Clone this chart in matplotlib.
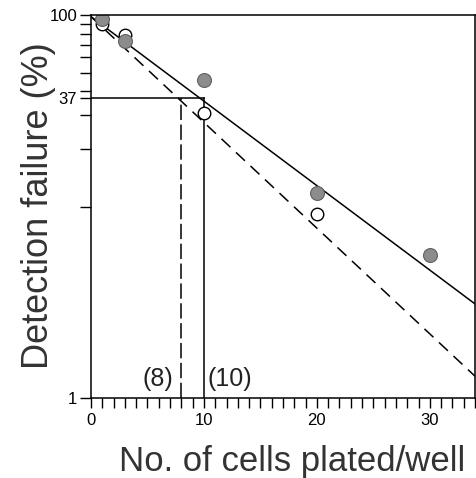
import numpy as np
import matplotlib
matplotlib.use("Agg")
import matplotlib.pyplot as plt

plt.rcParams['font.family'] = ['Liberation Sans', 'DejaVu Sans']

# data
cells_filled = [1, 3, 10, 20, 30]
failure_filled = [95.3, 73.2, 45.8, 11.8, 5.6]
cells_open = [1, 3, 10, 20]
failure_open = [89.7, 78.6, 30.8, 9.1]

# fitted lines (end points)
fit_x = [0, 34]
fit_solid = [98, 3.1]
fit_dashed = [98, 1.3]

level_37 = 37
cut_solid = 10
cut_dashed = 8

xtick_major = [0, 10, 20, 30]
ytick_pos = [1, 10, 20, 30, 37, 40, 50, 60, 70, 80, 90, 100]
ytick_lab = ["1", "", "", "", "37", "", "", "", "", "", "", "100"]

fig = plt.figure(figsize=(4.76, 4.78), dpi=100)
ax = fig.add_axes([91/476, 1 - 398/478, 384/476, 383/478])

ax.plot(fit_x, fit_solid, color="black", lw=1.1)
ax.plot(fit_x, fit_dashed, color="black", lw=1.1, dashes=(8, 5))

# 37% read-off lines
ax.plot([0, cut_solid], [level_37, level_37], color="black", lw=1.1)
ax.plot([cut_solid, cut_solid], [1, level_37], color="black", lw=1.1)
ax.plot([cut_dashed, cut_dashed], [1, level_37], color="black", lw=1.1, dashes=(10, 3))

ax.plot(cells_open, failure_open, "o", ms=9, mfc="white", mec="black", mew=1.0)
ax.plot(cells_filled, failure_filled, "o", ms=10, mfc="#8c8c8c", mec="#606060", mew=0.8)

ax.text(7.3, 1.25, "(8)", fontsize=18, ha="right", va="center", color="#222222")
ax.text(10.3, 1.25, "(10)", fontsize=18, ha="left", va="center", color="#222222")

ax.set_yscale("log")
ax.set_xlim(0, 34)
ax.set_ylim(1, 100)
ax.set_xticks(range(0, 35))
ax.set_xticklabels([str(v) if v in xtick_major else "" for v in range(0, 35)])
ax.yaxis.set_minor_locator(matplotlib.ticker.NullLocator())
ax.set_yticks(ytick_pos)
ax.set_yticklabels(ytick_lab)
ax.tick_params(axis="x", direction="out", length=7, width=1.0, labelsize=12, pad=4)
ax.tick_params(axis="y", direction="out", length=8, width=1.0, labelsize=12, pad=2)
for s in ax.spines.values():
    s.set_linewidth(1.1)

fig.text(292/476, 1 - 461/478, "No. of cells plated/well", fontsize=25,
         color="#333333", ha="center", va="center")
fig.text(39/476, 1 - 206/478, "Detection failure (%)", fontsize=26,
         color="#333333", ha="center", va="center", rotation=90)

fig.savefig("out.png", dpi=100)
